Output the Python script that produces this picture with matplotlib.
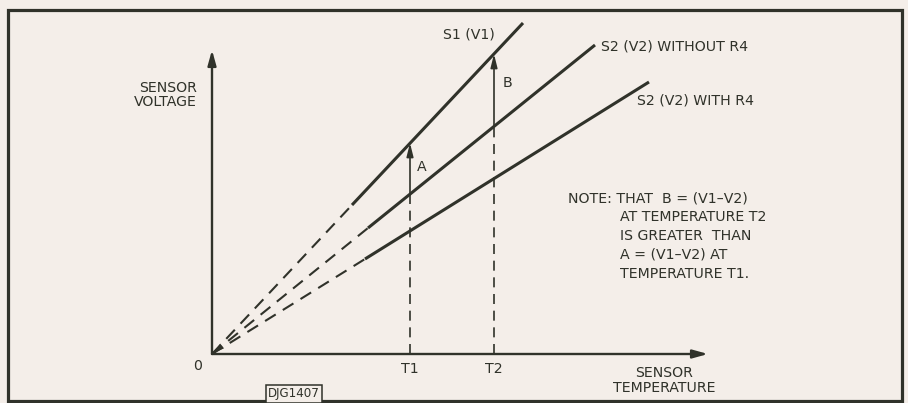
import matplotlib
matplotlib.use("Agg")
import matplotlib.pyplot as plt
from matplotlib.patches import Rectangle

# ---- data (arbitrary units) ----
temp_axis_max = 49.6
volt_axis_max = 30.4
T1 = 19.8
T2 = 28.2

s1_temp = [0.0, 14.0, 31.1]
s1_volt = [0.0, 14.9, 33.1]
s2_without_temp = [0.0, 15.6, 38.3]
s2_without_volt = [0.0, 12.6, 30.9]
s2_with_temp = [0.0, 15.3, 43.7]
s2_with_volt = [0.0, 9.5, 27.2]

arrow_A = (T1, 16.0, 21.1)   # x, from, to
arrow_B = (T2, 22.8, 30.0)

tick_labels = ["0", "T1", "T2"]
note_lines = ["AT TEMPERATURE T2", "IS GREATER  THAN", "A = (V1\u2013V2) AT", "TEMPERATURE T1."]

INK = "#30322a"
BG = "#f4eee9"
FS = 10.2

fig = plt.figure(figsize=(9.08, 4.03), dpi=100)
fig.patch.set_facecolor(BG)
ax = fig.add_axes([0, 0, 1, 1])
ax.set_facecolor(BG)
ax.set_xlim(-21.2, 69.6)
ax.set_ylim(-4.9, 35.4)
ax.axis("off")

# outer frame
ax.add_patch(Rectangle((0.009, 0.005), 0.984, 0.970, transform=ax.transAxes,
                       fill=False, edgecolor=INK, lw=2.3))

# axes with arrows
ax.annotate("", xy=(temp_axis_max, 0), xytext=(0, 0),
            arrowprops=dict(arrowstyle="-|>,head_length=0.9,head_width=0.25", color=INK, lw=1.7,
                            shrinkA=0, shrinkB=0))
ax.annotate("", xy=(0, volt_axis_max), xytext=(0, 0),
            arrowprops=dict(arrowstyle="-|>,head_length=0.9,head_width=0.25", color=INK, lw=1.7,
                            shrinkA=0, shrinkB=0))

# lines: dashed extrapolation to origin, solid measured part
for xs, ys in [(s1_temp, s1_volt), (s2_without_temp, s2_without_volt), (s2_with_temp, s2_with_volt)]:
    ax.plot(xs[:2], ys[:2], color=INK, lw=1.5, dashes=(6, 4), solid_capstyle="butt")
    ax.plot(xs[1:], ys[1:], color=INK, lw=2.2, solid_capstyle="butt")

# small arrow head at origin for the dashed lines
ax.annotate("", xy=(0.15, 0.1), xytext=(s2_without_temp[1] * 0.12, s2_without_volt[1] * 0.12),
            arrowprops=dict(arrowstyle="-|>,head_length=0.8,head_width=0.22", color=INK, lw=0.0,
                            shrinkA=0, shrinkB=0))

# vertical lines at T1 and T2
for x, y0, y1 in [arrow_A, arrow_B]:
    ax.plot([x, x], [0, y0], color=INK, lw=1.2, dashes=(6, 4))
    ax.annotate("", xy=(x, y1), xytext=(x, y0),
                arrowprops=dict(arrowstyle="-|>,head_length=0.8,head_width=0.2", color=INK, lw=1.2,
                                shrinkA=0, shrinkB=0))

# text
ax.text(-1.5, 25.9, "SENSOR\nVOLTAGE", ha="right", va="center", multialignment="right",
        fontsize=FS, color=INK, linespacing=1.0)
ax.text(-1.4, -1.2, tick_labels[0], ha="center", va="center", fontsize=FS, color=INK)
ax.text(T1, -1.5, tick_labels[1], ha="center", va="center", fontsize=FS, color=INK)
ax.text(T2, -1.5, tick_labels[2], ha="center", va="center", fontsize=FS, color=INK)
ax.text(45.2, -2.65, "SENSOR\nTEMPERATURE", ha="center", va="center", multialignment="center",
        fontsize=FS, color=INK, linespacing=1.05)
ax.text(28.3, 31.9, "S1 (V1)", ha="right", va="center", fontsize=FS, color=INK)
ax.text(38.9, 30.7, "S2 (V2) WITHOUT R4", ha="left", va="center", fontsize=FS, color=INK)
ax.text(42.5, 25.4, "S2 (V2) WITH R4", ha="left", va="center", fontsize=FS, color=INK)
ax.text(21.0, 18.7, "A", ha="center", va="center", fontsize=FS, color=INK)
ax.text(29.5, 27.1, "B", ha="center", va="center", fontsize=FS, color=INK)
ax.text(35.6, 15.6, "NOTE: THAT  B = (V1\u2013V2)", ha="left", va="center", fontsize=FS, color=INK)
for i, line in enumerate(note_lines):
    ax.text(40.8, 13.7 - 1.9 * i, line, ha="left", va="center", fontsize=FS, color=INK)
ax.text(8.2, -4.0, "DJG1407", ha="center", va="center", fontsize=8.6, color=INK,
        bbox=dict(boxstyle="square,pad=0.18", facecolor=BG, edgecolor=INK, lw=1.1))

fig.savefig("out.png", dpi=100, facecolor=BG)
